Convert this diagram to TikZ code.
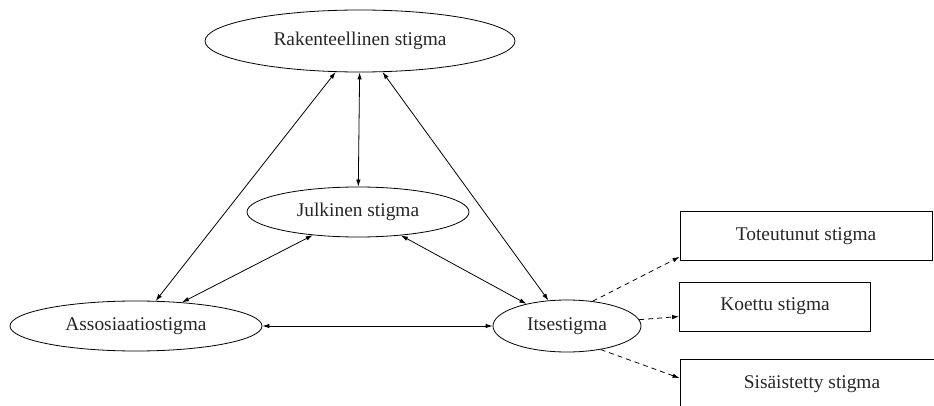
\documentclass[tikz,border=0pt]{standalone}
\usepackage{fontspec}
\setmainfont{Liberation Serif}
\usetikzlibrary{shapes.geometric,arrows.meta,calc}
\begin{document}
\begin{tikzpicture}[x=1pt,y=-1pt,
  every node/.style={font=\fontsize{19.4}{23}\selectfont, text=black!85},
  ell/.style={draw, ellipse, inner sep=0pt, line width=0.8pt},
  boxn/.style={draw, rectangle, inner sep=0pt, line width=0.8pt},
  con/.style={line width=0.8pt, {Latex[length=7pt,width=4.5pt]}-{Latex[length=7pt,width=4.5pt]}},
  dcon/.style={line width=0.8pt, dash pattern=on 5pt off 4pt, -{Latex[length=7pt,width=4.5pt]}}]
\clip (0,0) rectangle (934,406);
\node[ell, minimum width=310pt, minimum height=62pt] (rak) at (360,41) {Rakenteellinen stigma};
\node[ell, minimum width=222pt, minimum height=50pt] (jul) at (358,212) {Julkinen stigma};
\node[ell, minimum width=252pt, minimum height=50pt] (ass) at (136,326) {Assosiaatiostigma};
\node[ell, minimum width=148pt, minimum height=52pt] (its) at (567,326) {Itsestigma};
\node[boxn, minimum width=252pt, minimum height=49pt] (tot) at (806,236) {Toteutunut stigma};
\node[boxn, minimum width=191pt, minimum height=49pt] (koe) at (775,306.5) {Koettu stigma};
\node[boxn, minimum width=264pt, minimum height=49pt] (sis) at (812,384) {Sisäistetty stigma};
\draw[con] (rak) -- (ass);
\draw[con] (rak) -- (jul);
\draw[con] (rak) -- (its);
\draw[con] (jul) -- (ass);
\draw[con] (jul) -- (its);
\draw[con] (ass) -- (its);
\coordinate (t1) at ($(tot.south west)+(0,-4)$);
\coordinate (k1) at ($(koe.west)+(0,10)$);
\coordinate (s1) at ($(sis.north west)+(0,19)$);
\draw[dcon] (its.44) -- (t1);
\draw[dcon] (its.5) -- (k1);
\draw[dcon] (its.-35) -- (s1);
\end{tikzpicture}
\end{document}
